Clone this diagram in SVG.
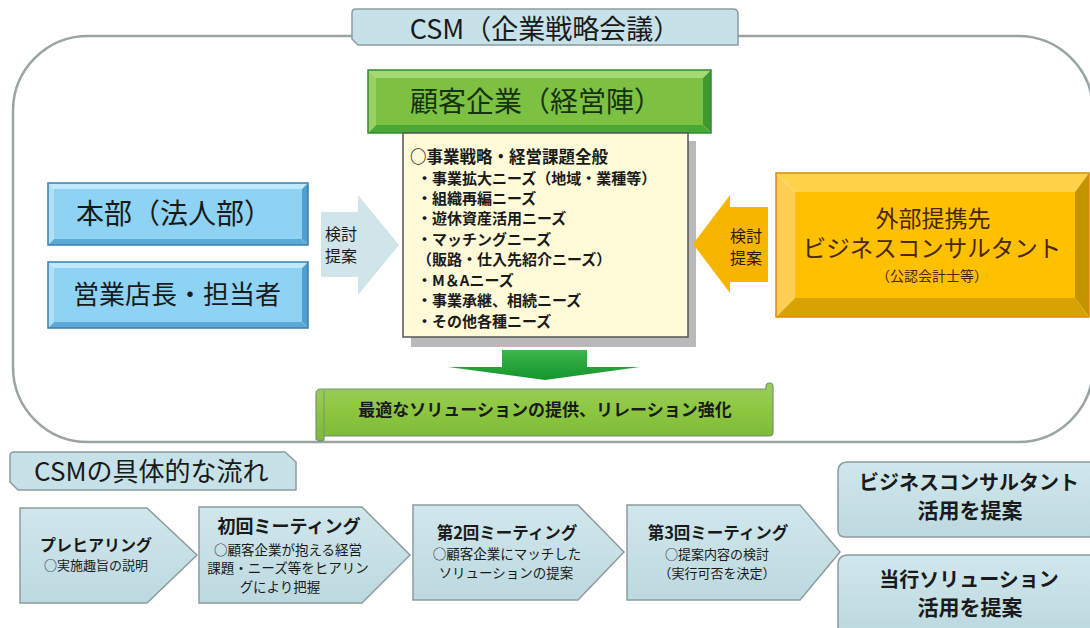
<svg xmlns="http://www.w3.org/2000/svg" width="1090" height="628" viewBox="0 0 1090 628">
<defs>
<style>
text{font-family:"Noto Sans CJK JP","Noto Sans",sans-serif;fill:#1a1a1a}
.b{font-weight:bold}
.mid{text-anchor:middle}
.tab{fill:#c6e2e8;stroke:#8c9c9f;stroke-width:1.5}
.proc{fill:#c7e0e5;stroke:#8c9c9f;stroke-width:1.5}
.blueTop{fill:#c2e8fb}.blueLeft{fill:#aee0f8}.blueRight{fill:#4f9fcf}.blueBot{fill:#5aa9d6}.blueIn{fill:#8ed3f4}
.org{fill:#4a2800}
</style>
<linearGradient id="gBanner" x1="0" y1="0" x2="0" y2="1">
<stop offset="0" stop-color="#9ccf5c"/><stop offset="0.5" stop-color="#8cc63f"/><stop offset="1" stop-color="#7cb836"/>
</linearGradient>
<linearGradient id="gDown" x1="0" y1="0" x2="0" y2="1">
<stop offset="0" stop-color="#3db54a"/><stop offset="1" stop-color="#14952e"/>
</linearGradient>
<linearGradient id="gProc" x1="0" y1="0" x2="0" y2="1">
<stop offset="0" stop-color="#d0e7ec"/><stop offset="1" stop-color="#bcd9df"/>
</linearGradient>
</defs>

<rect x="0" y="0" width="1090" height="628" fill="#ffffff"/>

<g id="container">
<rect x="13" y="36" width="1080" height="406" rx="75" ry="75" fill="none" stroke="#9aa4a4" stroke-width="2.5"/>
</g>

<g id="title-tab">
<path class="tab" d="M352,13 Q352,9 356,9 L733,9 Q738,9 738,14 L738,45 L358,45 L352,39 Z"/>
<text x="545" y="39" class="mid" font-size="27">CSM（企業戦略会議）</text>
</g>

<g id="honbu">
<polygon class="blueTop" points="48,183 308,183 302,189 54,189"/>
<polygon class="blueLeft" points="48,183 54,189 54,239 48,245"/>
<polygon class="blueRight" points="308,183 308,245 302,239 302,189"/>
<polygon class="blueBot" points="48,245 308,245 302,239 54,239"/>
<rect class="blueIn" x="54" y="189" width="248" height="50"/>
<rect x="48" y="183" width="260" height="62" fill="none" stroke="#3a7fb3" stroke-width="1.5"/>
<text x="174" y="224" class="mid" font-size="28">本部（法人部）</text>
</g>

<g id="eigyo">
<polygon class="blueTop" points="48,262 308,262 302,268 54,268"/>
<polygon class="blueLeft" points="48,262 54,268 54,322 48,328"/>
<polygon class="blueRight" points="308,262 308,328 302,322 302,268"/>
<polygon class="blueBot" points="48,328 308,328 302,322 54,322"/>
<rect class="blueIn" x="54" y="268" width="248" height="54"/>
<rect x="48" y="262" width="260" height="66" fill="none" stroke="#3a7fb3" stroke-width="1.5"/>
<text x="177" y="304" class="mid" font-size="26">営業店長・担当者</text>
</g>

<g id="kokyaku">
<polygon fill="#a6d873" points="368,70 711,70 703,78 376,78"/>
<polygon fill="#98d065" points="368,70 376,78 376,125 368,133"/>
<polygon fill="#3c9a30" points="711,70 711,133 703,125 703,78"/>
<polygon fill="#4aa838" points="368,133 711,133 703,125 376,125"/>
<rect x="376" y="78" width="327" height="47" fill="#7cc142"/>
<rect x="368" y="70" width="343" height="63" fill="none" stroke="#2f8a2f" stroke-width="1.5"/>
<text x="536" y="112" class="mid" font-size="28" style="fill:#17320c">顧客企業（経営陣）</text>
</g>

<g id="needs">
<rect x="411" y="141" width="285" height="206" fill="#b9b9b9"/>
<rect x="403" y="133" width="285" height="204" fill="#fffbd8" stroke="#555555" stroke-width="1.5"/>
<text x="410" y="163" class="b" font-size="16.5">○事業戦略・経営課題全般</text>
<g class="b" font-size="15">
<text x="417" y="184">・事業拡大ニーズ（地域・業種等）</text>
<text x="417" y="204">・組織再編ニーズ</text>
<text x="417" y="224">・遊休資産活用ニーズ</text>
<text x="417" y="245">・マッチングニーズ</text>
<text x="417" y="265">（販路・仕入先紹介ニーズ）</text>
<text x="417" y="286">・M＆Aニーズ</text>
<text x="417" y="306">・事業承継、相続ニーズ</text>
<text x="417" y="327">・その他各種ニーズ</text>
</g>
</g>

<g id="gaibu">
<polygon fill="#ffd24a" points="776,173 1089,173 1075,192 795,192"/>
<polygon fill="#ffcf55" points="776,173 795,192 795,298 776,317"/>
<polygon fill="#c49400" points="1089,173 1089,317 1075,298 1075,192"/>
<polygon fill="#d9a200" points="776,317 1089,317 1075,298 795,298"/>
<rect x="795" y="192" width="280" height="106" fill="#ffc000"/>
<rect x="776" y="173" width="313" height="144" fill="none" stroke="#e08a00" stroke-width="1.5"/>
<text x="933" y="227" class="mid org" font-size="23">外部提携先</text>
<text x="932" y="257" class="mid org" font-size="23.5">ビジネスコンサルタント</text>
<text x="932" y="281" class="mid org" font-size="14">（公認会計士等）</text>
</g>

<g id="banner">
<path d="M316,394 Q316,389 321,389 L766,389 L766,387 Q766,383 769.5,383 Q773,383 773,387 L773,432 Q773,436 769,436 L324,436 L324,440 Q320,443 316,439 Z" fill="url(#gBanner)" stroke="#7a8f7a" stroke-width="1.2"/>
<path d="M324,391 L324,436" stroke="#7a8f7a" stroke-width="1" fill="none"/>
<text x="545" y="416" class="mid b" font-size="17">最適なソリューションの提供、リレーション強化</text>
</g>

<g id="connectors">
<g id="arrow-left-proposal">
<polygon points="321,212 358,212 358,195 399,245 358,295 358,277 321,277" fill="#cfe5ea"/>
<text x="341" y="240" class="mid" font-size="16">検討</text>
<text x="341" y="262" class="mid" font-size="16">提案</text>
</g>
<g id="arrow-right-proposal">
<polygon points="768,207 730,207 730,195 693,244 730,293 730,282 768,282" fill="#f7b500"/>
<text x="746" y="242" class="mid" font-size="16" style="fill:#2a1a00">検討</text>
<text x="746" y="264" class="mid" font-size="16" style="fill:#2a1a00">提案</text>
</g>
<polygon id="arrow-down" points="502,350 587,350 587,367 640,367 545,380 448,367 502,367" fill="url(#gDown)"/>
</g>

<g id="flow-tab">
<path class="tab" d="M10,456 Q10,452 14,452 L285,452 L296,462 L296,490 L18,490 L10,482 Z"/>
<text x="34" y="481" font-size="26">CSMの具体的な流れ</text>
</g>

<g id="step1">
<path class="proc" style="fill:url(#gProc)" d="M20,508 L147,508 L197,555 L147,603 L20,603 Z"/>
<text x="96" y="551" class="mid b" font-size="16">プレヒアリング</text>
<text x="96" y="570" class="mid" font-size="13">○実施趣旨の説明</text>
</g>

<g id="step2">
<path class="proc" style="fill:url(#gProc)" d="M199,507 L362,507 L410,555 L362,603 L199,603 Z"/>
<text x="289" y="533" class="mid b" font-size="18">初回ミーティング</text>
<text x="288" y="555" class="mid" font-size="13.5">○顧客企業が抱える経営</text>
<text x="288" y="573" class="mid" font-size="13.5">課題・ニーズ等をヒアリン</text>
<text x="280" y="592" class="mid" font-size="13.5">グにより把握</text>
</g>

<g id="step3">
<path class="proc" style="fill:url(#gProc)" d="M413,505 L578,505 L624,552 L578,600 L413,600 Z"/>
<text x="507" y="539" class="mid b" font-size="16.5">第2回ミーティング</text>
<text x="507" y="559" class="mid" font-size="13.5">○顧客企業にマッチした</text>
<text x="506" y="578" class="mid" font-size="13.5">ソリューションの提案</text>
</g>

<g id="step4">
<path class="proc" style="fill:url(#gProc)" d="M627,505 L800,505 L840,552 L800,600 L627,600 Z"/>
<text x="718" y="539" class="mid b" font-size="16.5">第3回ミーティング</text>
<text x="717" y="559" class="mid" font-size="13">○提案内容の検討</text>
<text x="717" y="578" class="mid" font-size="13">（実行可否を決定）</text>
</g>

<g id="result-consultant">
<path class="proc" style="fill:url(#gProc)" d="M838,472 Q838,462 848,462 L1093,462 L1093,537 L845,537 Q838,537 838,530 Z"/>
<text x="969" y="490" class="mid b" font-size="20">ビジネスコンサルタント</text>
<text x="970" y="518" class="mid b" font-size="21">活用を提案</text>
</g>

<g id="result-solution">
<path class="proc" style="fill:url(#gProc)" d="M838,565 Q838,555 848,555 L1093,555 L1093,632 L838,632 Z"/>
<text x="969" y="587" class="mid b" font-size="20">当行ソリューション</text>
<text x="970" y="615" class="mid b" font-size="21">活用を提案</text>
</g>
</svg>
